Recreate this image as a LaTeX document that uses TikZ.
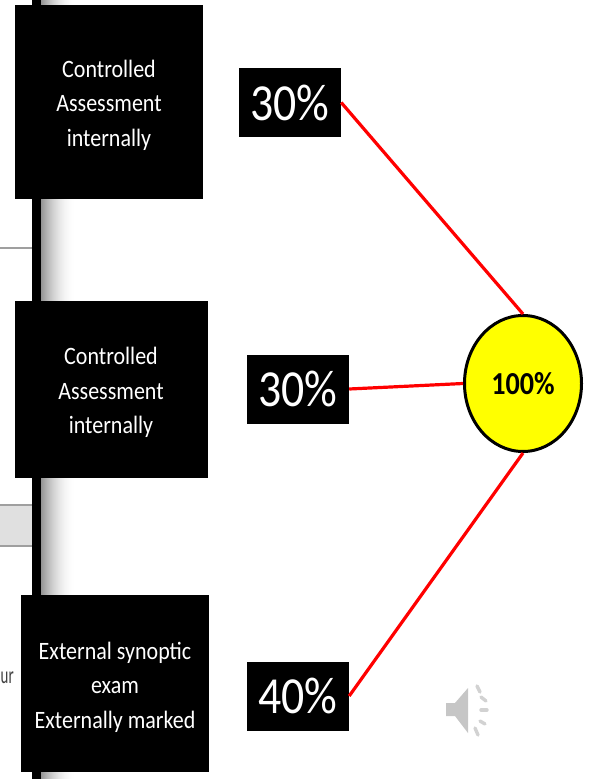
\documentclass[tikz,border=0pt]{standalone}
\usepackage{fontspec}
\setmainfont{Carlito}
\usetikzlibrary{shapes.geometric}
\definecolor{pureyellow}{RGB}{255,255,0}
\newcommand{\tallline}[1]{\scalebox{0.88}[1]{#1}}
\tikzset{
  blackbox/.style={fill=black,text=white,inner sep=0pt,align=center,font=\fontsize{25}{34.5}\selectfont},
  pctbox/.style={fill=black,text=white,inner sep=0pt,minimum width=102pt,minimum height=69pt,font=\fontsize{52}{52}\selectfont},
  redline/.style={red,line width=3.2pt},
  tick/.style={line width=3.4pt,line cap=round,gray!35}
}
\begin{document}
\begin{tikzpicture}[x=1pt,y=-1pt]
\useasboundingbox (0,0) rectangle (590,779);
% soft shadow right of the vertical bar
\foreach \sx in {41,...,75}{
  \pgfmathsetmacro{\sg}{42*(1-(\sx-41)/35)*(1-(\sx-41)/35)}
  \fill[black!\sg] (\sx,0) rectangle (76,779);
}
\fill[white] (75.5,0) rectangle (77,779);
% left slide fragments
\draw[gray!75,line width=2pt] (0,248) -- (32,248);
\fill[black!12] (0,505) rectangle (32,546);
\draw[gray!75,line width=1.8pt] (0,505) -- (32,505) (0,546) -- (32,546);
\node[anchor=west,inner sep=0pt,text=black!75,font=\fontsize{24}{30}\selectfont] (cut) at (0.5,678) {\scalebox{0.62}[1]{ur}};
\fill[black] (32,0) rectangle (41,779);
% boxes
\node[blackbox,minimum width=188pt,minimum height=194pt] (b1) at (109,102) {};
\node[blackbox,minimum width=193pt,minimum height=177pt] (b2) at (111.5,389.5) {};
\node[blackbox,minimum width=188pt,minimum height=177pt] (b3) at (115,683.5) {};
\node[blackbox,anchor=center] (t1) at (109,105) {\tallline{Controlled}\\\tallline{Assessment}\\\tallline{internally}};
\node[blackbox,anchor=center] (t2) at (111,392.5) {\tallline{Controlled}\\\tallline{Assessment}\\\tallline{internally}};
\node[blackbox,anchor=center] (t3) at (115,687) {\tallline{External synoptic}\\\tallline{exam}\\\tallline{Externally marked}};
% percentages
\node[pctbox] (p1) at (290,102.5) {\tallline{30\%}};
\node[pctbox] (p2) at (298,389) {\tallline{30\%}};
\node[pctbox] (p3) at (298,696) {\tallline{40\%}};
% total
\node[ellipse,draw=black,fill=pureyellow,line width=3pt,minimum width=117pt,minimum height=136pt,inner sep=0pt,font=\fontsize{32}{32}\selectfont\bfseries] (c) at (523,383.5) {\tallline{100\%}};
\draw[redline] (p1.east) -- (c.north);
\draw[redline] (p2.east) -- (c.west);
\draw[redline] (p3.east) -- (c.south);
% speaker icon
\fill[gray!45] (446,703) -- (455,703) -- (468,688) -- (468,733) -- (455,716) -- (446,716) -- cycle;
\draw[tick] (477,686) -- (480,692);
\draw[tick] (481,697) -- (486,701);
\draw[tick] (481,710) -- (487,710);
\draw[tick] (480,721) -- (485,724);
\draw[tick] (475,728) -- (478,735);
\end{tikzpicture}
\end{document}
